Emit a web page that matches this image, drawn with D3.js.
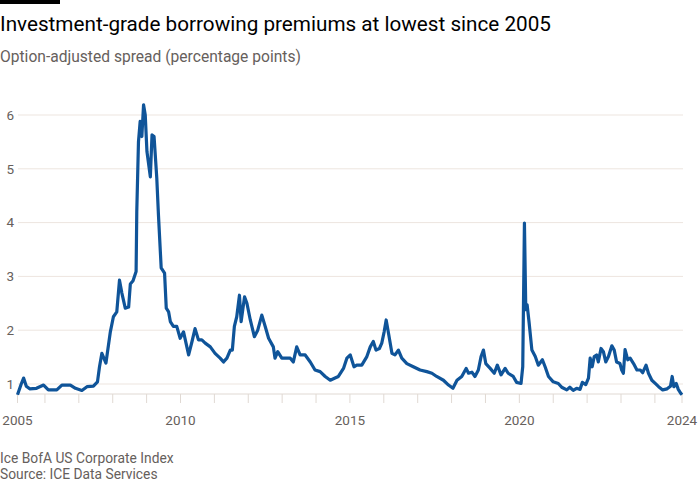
<!DOCTYPE html>
<html>
<head>
<meta charset="utf-8">
<script src="https://cdn.jsdelivr.net/npm/d3@7"></script>
<style>
  body { margin: 0; background: #fff; }
  svg { display: block; font-family: Roboto, "Noto Sans", sans-serif; }
</style>
</head>
<body>
<div id="chart"></div>
<script>
// Chart texts
const title = "Investment-grade borrowing premiums at lowest since 2005";
const subtitle = "Option-adjusted spread (percentage points)";
const notes = ["Ice BofA US Corporate Index", "Source: ICE Data Services"];

// Data: decimal year and spread (pp)
const years = [
  2005.19, 2005.30, 2005.37, 2005.45, 2005.55, 2005.75, 2005.96, 2006.10, 2006.35, 2006.50,
  2006.75, 2006.90, 2007.09, 2007.24, 2007.43, 2007.55, 2007.61, 2007.68, 2007.80, 2007.93,
  2008.02, 2008.12, 2008.20, 2008.27, 2008.37, 2008.47, 2008.52, 2008.60, 2008.69, 2008.71,
  2008.76, 2008.81, 2008.86, 2008.91, 2008.96, 2009.01, 2009.11, 2009.16, 2009.22, 2009.30,
  2009.35, 2009.43, 2009.53, 2009.58, 2009.65, 2009.70, 2009.79, 2009.89, 2009.99, 2010.09,
  2010.24, 2010.34, 2010.43, 2010.53, 2010.63, 2010.73, 2010.88, 2011.02, 2011.17, 2011.27,
  2011.37, 2011.47, 2011.53, 2011.59, 2011.66, 2011.74, 2011.79, 2011.89, 2011.96, 2012.06,
  2012.18, 2012.28, 2012.40, 2012.50, 2012.60, 2012.74, 2012.79, 2012.87, 2012.99, 2013.24,
  2013.33, 2013.43, 2013.53, 2013.68, 2013.83, 2013.97, 2014.12, 2014.27, 2014.42, 2014.56,
  2014.66, 2014.81, 2014.91, 2015.01, 2015.12, 2015.20, 2015.35, 2015.50, 2015.60, 2015.69,
  2015.77, 2015.87, 2015.94, 2016.01, 2016.07, 2016.14, 2016.24, 2016.33, 2016.43, 2016.53,
  2016.68, 2016.87, 2017.07, 2017.27, 2017.42, 2017.56, 2017.76, 2017.91, 2018.04, 2018.16,
  2018.30, 2018.43, 2018.50, 2018.60, 2018.69, 2018.79, 2018.87, 2018.94, 2019.01, 2019.14,
  2019.26, 2019.35, 2019.46, 2019.58, 2019.67, 2019.82, 2019.92, 2020.05, 2020.10, 2020.15,
  2020.19, 2020.23, 2020.29, 2020.37, 2020.47, 2020.56, 2020.68, 2020.76, 2020.86, 2021.00,
  2021.15, 2021.25, 2021.40, 2021.49, 2021.59, 2021.69, 2021.79, 2021.86, 2021.96, 2022.04,
  2022.09, 2022.15, 2022.21, 2022.28, 2022.33, 2022.41, 2022.48, 2022.55, 2022.63, 2022.73,
  2022.80, 2022.87, 2022.97, 2023.02, 2023.07, 2023.12, 2023.20, 2023.27, 2023.37, 2023.47,
  2023.57, 2023.64, 2023.74, 2023.81, 2023.91, 2024.01, 2024.11, 2024.23, 2024.36, 2024.46,
  2024.51, 2024.56, 2024.63, 2024.69, 2024.76, 2024.80
];
const spreads = [
  0.80, 1.00, 1.11, 0.96, 0.91, 0.92, 0.98, 0.89, 0.89, 0.98,
  0.98, 0.92, 0.88, 0.95, 0.96, 1.04, 1.32, 1.57, 1.39, 1.97,
  2.25, 2.34, 2.93, 2.69, 2.41, 2.43, 2.86, 2.92, 3.09, 4.20,
  5.50, 5.88, 5.60, 6.19, 6.00, 5.32, 4.85, 5.63, 5.60, 4.83,
  4.14, 3.16, 3.06, 2.41, 2.34, 2.16, 2.07, 2.07, 1.85, 1.97,
  1.54, 1.79, 2.03, 1.82, 1.82, 1.76, 1.69, 1.57, 1.48, 1.41,
  1.48, 1.63, 1.63, 2.07, 2.25, 2.65, 2.16, 2.62, 2.50, 2.19,
  1.88, 2.00, 2.28, 2.07, 1.85, 1.69, 1.48, 1.60, 1.48, 1.48,
  1.41, 1.69, 1.54, 1.54, 1.41, 1.26, 1.23, 1.14, 1.07, 1.11,
  1.14, 1.29, 1.48, 1.54, 1.32, 1.35, 1.35, 1.51, 1.69, 1.79,
  1.63, 1.66, 1.76, 1.97, 2.19, 1.94, 1.57, 1.54, 1.63, 1.48,
  1.38, 1.32, 1.26, 1.23, 1.20, 1.14, 1.07, 0.98, 0.92, 1.07,
  1.14, 1.29, 1.20, 1.22, 1.14, 1.26, 1.51, 1.63, 1.38, 1.29,
  1.20, 1.35, 1.17, 1.29, 1.20, 1.14, 1.03, 1.01, 1.32, 3.99,
  2.38, 2.47, 2.13, 1.63, 1.51, 1.35, 1.45, 1.32, 1.14, 1.04,
  1.01, 0.94, 0.89, 0.94, 0.88, 0.92, 0.90, 1.03, 0.99, 1.11,
  1.48, 1.32, 1.51, 1.54, 1.41, 1.66, 1.60, 1.41, 1.51, 1.71,
  1.63, 1.41, 1.38, 1.26, 1.20, 1.64, 1.45, 1.48, 1.38, 1.26,
  1.26, 1.21, 1.35, 1.20, 1.07, 1.01, 0.95, 0.89, 0.91, 0.96,
  1.14, 0.95, 1.01, 0.90, 0.83, 0.80
];

// Axis ticks and labels
const yTicks = [1, 2, 3, 4, 5, 6];
const yearTicks = d3.range(2006, 2025);
const xLabels = [
  { year: 2005.19, text: "2005" },
  { year: 2010, text: "2010" },
  { year: 2015, text: "2015" },
  { year: 2020, text: "2020" },
  { year: 2024.80, text: "2024" }
];

const svgWidth = 700;
const svgHeight = 500;

const svg = d3.select("#chart")
  .append("svg")
  .attr("width", svgWidth)
  .attr("height", svgHeight);

// top black bar
svg.append("rect")
  .attr("x", 0).attr("y", 0)
  .attr("width", 60).attr("height", 4)
  .attr("fill", "#000");

svg.append("text")
  .attr("x", 0).attr("y", 31)
  .attr("font-size", 20.7)
  .attr("fill", "#000")
  .text(title);

svg.append("text")
  .attr("x", 0).attr("y", 62)
  .attr("font-size", 15.6)
  .attr("fill", "#66605c")
  .text(subtitle);

// scales
const x = d3.scaleLinear()
  .domain([2005.19, 2024.80])
  .range([17.5, 682]);

const y = d3.scaleLinear()
  .domain([1, 6])
  .range([384, 115]);

const baseY = 394;

// gridlines
svg.append("g")
  .selectAll("line")
  .data(yTicks)
  .enter()
  .append("line")
  .attr("x1", 18)
  .attr("x2", 683)
  .attr("y1", d => y(d))
  .attr("y2", d => y(d))
  .attr("stroke", "#ede5df")
  .attr("stroke-width", 1);

// y labels
svg.append("g")
  .selectAll("text")
  .data(yTicks)
  .enter()
  .append("text")
  .attr("x", 14)
  .attr("y", d => y(d))
  .attr("dy", "0.35em")
  .attr("text-anchor", "end")
  .attr("font-size", 13.5)
  .attr("fill", "#66605c")
  .text(d => d);

// x axis baseline and ticks
svg.append("line")
  .attr("x1", 17.5).attr("x2", 683)
  .attr("y1", baseY).attr("y2", baseY)
  .attr("stroke", "#e0d9d3")
  .attr("stroke-width", 1);

const tickYears = [2005.19].concat(yearTicks, [2024.80]);
svg.append("g")
  .selectAll("line")
  .data(tickYears)
  .enter()
  .append("line")
  .attr("x1", d => x(d))
  .attr("x2", d => x(d))
  .attr("y1", baseY)
  .attr("y2", baseY + 9)
  .attr("stroke", "#e0d9d3")
  .attr("stroke-width", 1);

svg.append("g")
  .selectAll("text")
  .data(xLabels)
  .enter()
  .append("text")
  .attr("x", d => x(d.year))
  .attr("y", 425)
  .attr("text-anchor", "middle")
  .attr("font-size", 13.5)
  .attr("fill", "#66605c")
  .text(d => d.text);

// the line
const series = years.map((yr, i) => ({ year: yr, value: spreads[i] }));

const line = d3.line()
  .x(d => x(d.year))
  .y(d => y(d.value));

svg.append("path")
  .datum(series)
  .attr("fill", "none")
  .attr("stroke", "#0f5499")
  .attr("stroke-width", 3.2)
  .attr("stroke-linejoin", "round")
  .attr("d", line);

// footer notes
svg.append("g")
  .selectAll("text")
  .data(notes)
  .enter()
  .append("text")
  .attr("x", 0)
  .attr("y", (d, i) => 463 + i * 16)
  .attr("font-size", 13.8)
  .attr("fill", "#66605c")
  .text(d => d);
</script>
</body>
</html>
